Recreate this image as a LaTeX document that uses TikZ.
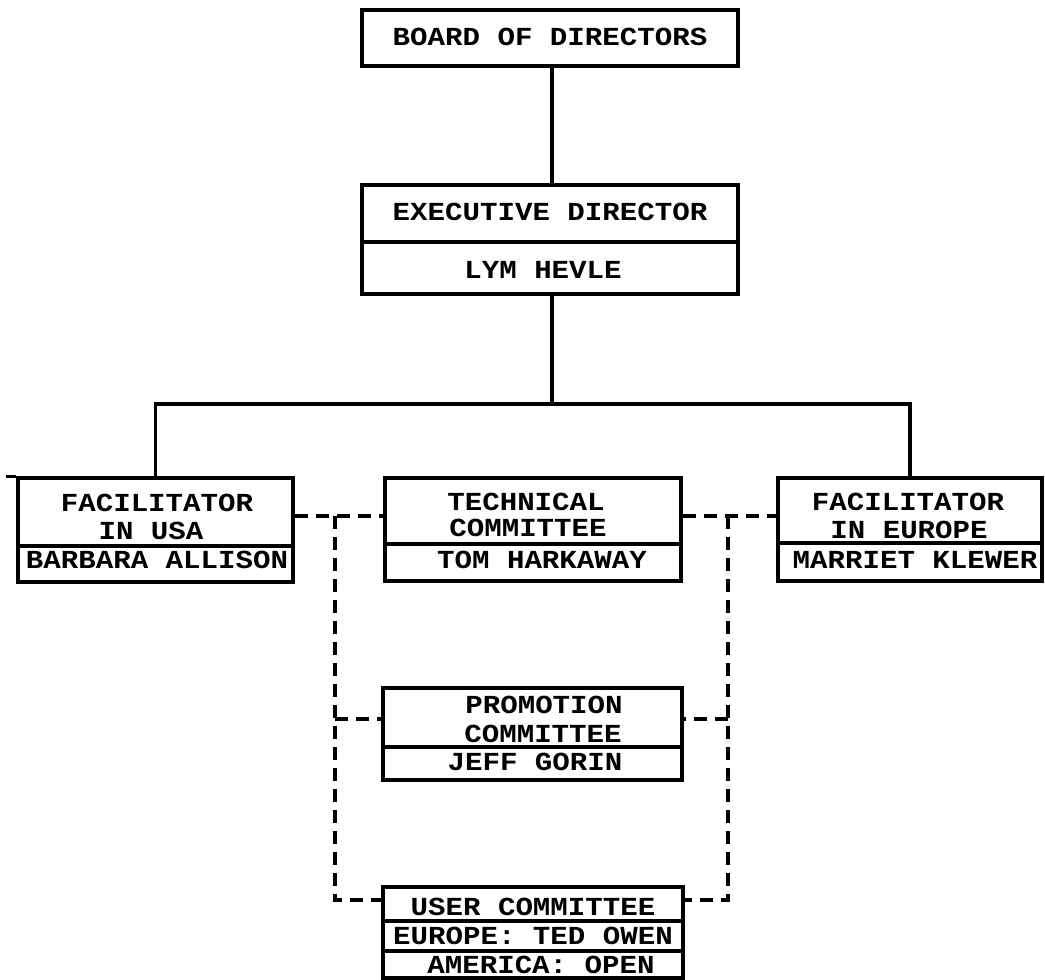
\documentclass[tikz,border=0pt]{standalone}
\usepackage{fontspec}
\setmonofont{Liberation Mono}[FakeStretch=1.12]
\begin{document}
\begin{tikzpicture}[x=1pt,y=-1pt,
  box/.style={draw, line width=3.5pt, rectangle, inner sep=0pt},
  lbl/.style={font=\ttfamily\bfseries\fontsize{26}{26}\selectfont, inner sep=0pt, anchor=center},
  divider/.style={line width=3.5pt},
  solidlink/.style={line width=3.5pt},
  dashlink/.style={line width=3.5pt, dash pattern=on 13pt off 8pt}]
\useasboundingbox (0,0) rectangle (1045,980);

% frames
\node[box, minimum width=376pt, minimum height=56pt]  (board) at (550,38) {};
\node[box, minimum width=376pt, minimum height=109pt] (exec)  at (550,239.5) {};
\node[box, minimum width=275pt, minimum height=104pt] (usa)   at (155.5,530) {};
\node[box, minimum width=296pt, minimum height=103pt] (tech)  at (533,529.5) {};
\node[box, minimum width=264pt, minimum height=103pt] (eur)   at (910,529.5) {};
\node[box, minimum width=299pt, minimum height=92pt]  (promo) at (532.5,734) {};
\node[box, minimum width=300pt, minimum height=91pt]  (user)  at (533,932.5) {};

% dividers between title and name rows
\draw[divider] (exec.west |- 0,242) -- (exec.east |- 0,242);
\draw[divider] (usa.west |- 0,546) -- (usa.east |- 0,546);
\draw[divider] (tech.west |- 0,544) -- (tech.east |- 0,544);
\draw[divider] (eur.west |- 0,543) -- (eur.east |- 0,543);
\draw[divider] (promo.west |- 0,747) -- (promo.east |- 0,747);
\draw[divider] (user.west |- 0,921) -- (user.east |- 0,921);
\draw[divider] (user.west |- 0,951) -- (user.east |- 0,951);
\draw[divider] (usa.north west) -- ++(-10,0);

% labels
\node[lbl] (boardT) at (550,37)  {BOARD OF DIRECTORS};
\node[lbl] (execT)  at (550,212) {EXECUTIVE DIRECTOR};
\node[lbl] (execN)  at (543,270) {LYM HEVLE};
\node[lbl] (usaT1)  at (157,503) {FACILITATOR};
\node[lbl] (usaT2)  at (151,531) {IN USA};
\node[lbl] (usaN)   at (157,560) {BARBARA ALLISON};
\node[lbl] (techT1) at (526,502) {TECHNICAL};
\node[lbl] (techT2) at (528,528) {COMMITTEE};
\node[lbl] (techN)  at (542,560) {TOM HARKAWAY};
\node[lbl] (eurT1)  at (908,502) {FACILITATOR};
\node[lbl] (eurT2)  at (909,530) {IN EUROPE};
\node[lbl] (eurN)   at (915,560) {MARRIET KLEWER};
\node[lbl] (promoT1) at (544,705) {PROMOTION};
\node[lbl] (promoT2) at (543,734) {COMMITTEE};
\node[lbl] (promoN)  at (535,762) {JEFF GORIN};
\node[lbl] (userT)  at (533,907) {USER COMMITTEE};
\node[lbl] (userN1) at (533,936) {EUROPE: TED OWEN};
\node[lbl] (userN2) at (541,965) {AMERICA: OPEN};

% line of command
\coordinate (bar) at (552,404);
\draw[solidlink] (board.south -| bar) -- (exec.north -| bar);
\draw[solidlink] (exec.south -| bar) -- (bar);
\draw[solidlink] (usa.north) |- (bar) -| (eur.north);

% coordination (dashed)
\coordinate (tl) at (335,516);
\coordinate (tr) at (728,516);
\coordinate (pl) at (335,719);
\coordinate (pr) at (728,719);
\coordinate (bl) at (335,900);
\coordinate (br) at (728,900);
\draw[dashlink] (usa.east |- tl) -- (tech.west |- tl);
\draw[dashlink] (tech.east |- tr) -- (eur.west |- tr);
\draw[dashlink] (tl) -- (bl) -- (user.west |- bl);
\draw[dashlink] (tr) -- (br) -- (user.east |- br);
\draw[dashlink] (pl) -- (promo.west |- pl);
\draw[dashlink] (pr) -- (promo.east |- pr);
\end{tikzpicture}
\end{document}
